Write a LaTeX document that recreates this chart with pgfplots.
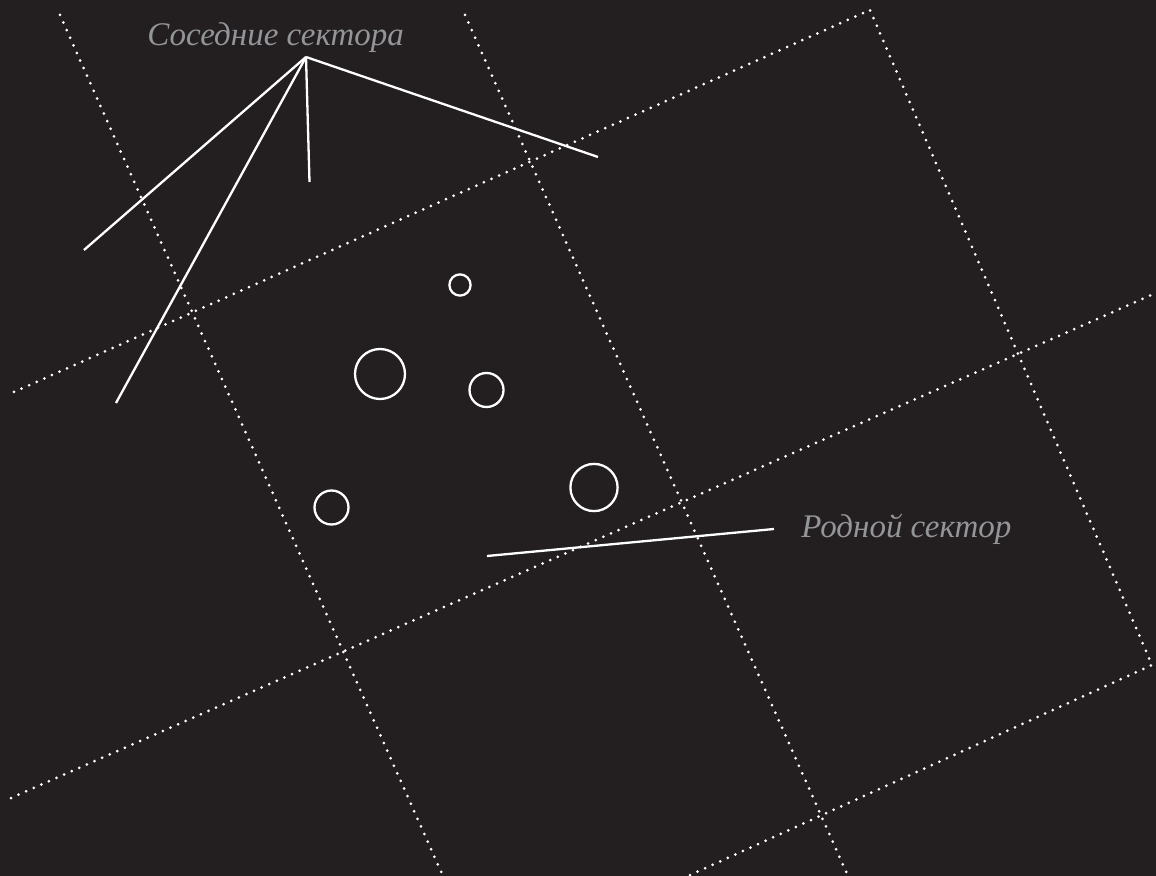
\documentclass[border=0pt]{standalone}
\usepackage{fontspec}
\setmainfont{Liberation Serif}
\usepackage{pgfplots}
\pgfplotsset{compat=1.18}
\definecolor{bg}{HTML}{231F20}
\definecolor{txt}{HTML}{939598}
\begin{document}
\begin{tikzpicture}
\begin{axis}[
  width=578pt, height=438pt, scale only axis,
  xmin=0, xmax=1156, ymin=0, ymax=876, y dir=reverse,
  hide axis, clip=true,
  grid line/.style={white, line width=1.5pt, line cap=round, dash pattern=on 0pt off 4.15pt},
  solid line/.style={white, line width=1.15pt},
  ring/.style={only marks, mark=o, mark options={white, line width=1.15pt}},
]
\addplot[fill=bg, draw=none] coordinates {(0,0) (1156,0) (1156,876) (0,876)} \closedcycle;
% dotted grid
\addplot[grid line] coordinates {(60,15) (443,876)};
\addplot[grid line] coordinates {(465,15) (848,876)};
\addplot[grid line] coordinates {(14,392) (870,10) (1152,665) (688,876)};
\addplot[grid line] coordinates {(11,798) (1156,293)};
% solid lines
\addplot[solid line] coordinates {(84,250) (306,57)};
\addplot[solid line] coordinates {(116,403) (306,57)};
\addplot[solid line] coordinates {(309.5,182) (306,57)};
\addplot[solid line] coordinates {(598,157) (306,57)};
\addplot[solid line] coordinates {(487,556) (774,529)};
% circles
\addplot[ring, mark size=5.3pt] coordinates {(460,285)};
\addplot[ring, mark size=12.5pt] coordinates {(380,374)};
\addplot[ring, mark size=8.5pt] coordinates {(486.5,390)};
\addplot[ring, mark size=8.5pt] coordinates {(331.5,507.5)};
\addplot[ring, mark size=11.8pt] coordinates {(594,487.5)};
% labels
\node[anchor=base west, inner sep=0pt, text=txt, font=\fontsize{16.5}{18}\selectfont\itshape] at (axis cs:147,46) {Соседние сектора};
\node[anchor=base west, inner sep=0pt, text=txt, font=\fontsize{16.5}{18}\selectfont\itshape] at (axis cs:801,538) {Родной сектор};
\end{axis}
\end{tikzpicture}
\end{document}
